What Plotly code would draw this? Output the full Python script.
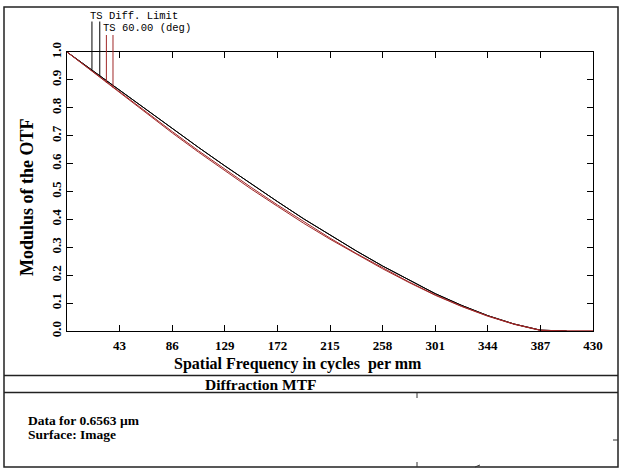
import plotly.graph_objects as go

# ---- data ----
freq = [0, 21.5, 43, 64.5, 86, 107.5, 129, 150.5, 172, 193.5, 215, 236.5,
        258, 279.5, 301, 322.5, 344, 365.5, 387, 408.5, 430]
diff_limit = [1.0, 0.931, 0.862, 0.793, 0.725, 0.658, 0.592, 0.527, 0.464,
              0.402, 0.343, 0.287, 0.233, 0.182, 0.134, 0.092, 0.055, 0.025,
              0.003, 0.0]
field60_T = [1.0, 0.927, 0.853, 0.781, 0.710, 0.641, 0.574, 0.509, 0.447,
             0.386, 0.329, 0.275, 0.223, 0.174, 0.128, 0.088, 0.053, 0.024,
             0.002, 0.0, 0.0]
field60_S = [1.0, 0.928, 0.856, 0.785, 0.715, 0.646, 0.580, 0.515, 0.452,
             0.391, 0.333, 0.278, 0.226, 0.176, 0.130, 0.089, 0.054, 0.025,
             0.003, 0.0, 0.0]
xtick_vals = [43, 86, 129, 172, 215, 258, 301, 344, 387, 430]
ytick_vals = [0.0, 0.1, 0.2, 0.3, 0.4, 0.5, 0.6, 0.7, 0.8, 0.9, 1.0]
ytick_text = ["0.0", "0.1", "0.2", "0.3", "0.4", "0.5", "0.6", "0.7", "0.8", "0.9", "1.0"]
# legend pointer positions (freq, value on curve)
ptr_black = [(20.4, 0.934), (26.8, 0.914)]
ptr_red = [(32.2, 0.889), (37.6, 0.872)]

W, H = 620, 470
L, R, T, B = 67, 593, 52, 331


def px(x):
    return (x - L) / (R - L)


def py(y):
    return (B - y) / (B - T)


BLACK = "#000000"
RED = "#a02828"

fig = go.Figure()
fig.add_trace(go.Scatter(x=freq[:len(diff_limit)], y=diff_limit, mode="lines",
                         line=dict(color=BLACK, width=1), name="T Diff. Limit"))
fig.add_trace(go.Scatter(x=freq[:len(diff_limit)], y=diff_limit, mode="lines",
                         line=dict(color=BLACK, width=1), name="S Diff. Limit"))
fig.add_trace(go.Scatter(x=freq, y=field60_T, mode="lines",
                         line=dict(color=RED, width=1), name="T 60.00 (deg)"))
fig.add_trace(go.Scatter(x=freq, y=field60_S, mode="lines",
                         line=dict(color=RED, width=1), name="S 60.00 (deg)"))

serif = "Liberation Serif"
mono = "Liberation Mono"

shapes = []
# outer frame
shapes.append(dict(type="rect", xref="paper", yref="paper",
                   x0=px(4), x1=px(618), y0=py(467), y1=py(7),
                   line=dict(color="#222", width=1.5)))
for yy in (375.5, 392.5):
    shapes.append(dict(type="line", xref="paper", yref="paper",
                       x0=px(4), x1=px(618), y0=py(yy), y1=py(yy),
                       line=dict(color="#222", width=1.5)))
# small artifact ticks
shapes.append(dict(type="line", xref="paper", yref="paper",
                   x0=px(417), x1=px(417), y0=py(393), y1=py(398),
                   line=dict(color="#333", width=1)))
shapes.append(dict(type="line", xref="paper", yref="paper",
                   x0=px(417), x1=px(417), y0=py(462), y1=py(467),
                   line=dict(color="#333", width=1)))
shapes.append(dict(type="line", xref="paper", yref="paper",
                   x0=px(475), x1=px(480), y0=py(467), y1=py(465),
                   line=dict(color="#333", width=1)))
shapes.append(dict(type="line", xref="paper", yref="paper",
                   x0=px(613), x1=px(618), y0=py(440), y1=py(440),
                   line=dict(color="#333", width=1)))
# legend pointer lines
for (f, v) in ptr_black:
    shapes.append(dict(type="line", xref="x", yref="paper",
                       x0=f, x1=f, y0=v, y1=py(21.5),
                       line=dict(color=BLACK, width=1)))
for (f, v) in ptr_red:
    shapes.append(dict(type="line", xref="x", yref="paper",
                       x0=f, x1=f, y0=v, y1=py(35),
                       line=dict(color=RED, width=1)))

annotations = [
    dict(text="TS Diff. Limit", xref="paper", yref="paper", x=px(88), y=py(15.5),
         xanchor="left", yanchor="middle", showarrow=False,
         font=dict(family=mono, size=10.5, color="#000")),
    dict(text="TS 60.00 (deg)", xref="paper", yref="paper", x=px(101), y=py(28),
         xanchor="left", yanchor="middle", showarrow=False,
         font=dict(family=mono, size=10.5, color="#000")),
    dict(text="<b>Spatial Frequency in cycles  per mm</b>", xref="paper", yref="paper",
         x=px(298), y=py(364), xanchor="center", yanchor="middle", showarrow=False,
         font=dict(family=serif, size=16, color="#000")),
    dict(text="<b>Modulus of the OTF</b>", xref="paper", yref="paper",
         x=px(27), y=py(197), xanchor="center", yanchor="middle", showarrow=False,
         textangle=-90, font=dict(family=serif, size=18, color="#000")),
    dict(text="<b>Diffraction MTF</b>", xref="paper", yref="paper",
         x=px(260), y=py(384), xanchor="center", yanchor="middle", showarrow=False,
         font=dict(family=serif, size=15.5, color="#000")),
    dict(text="<b>Data for 0.6563 µm</b>", xref="paper", yref="paper",
         x=px(26), y=py(420), xanchor="left", yanchor="middle", showarrow=False,
         font=dict(family=serif, size=13.5, color="#000")),
    dict(text="<b>Surface: Image</b>", xref="paper", yref="paper",
         x=px(26), y=py(434.5), xanchor="left", yanchor="middle", showarrow=False,
         font=dict(family=serif, size=13.5, color="#000")),
]

fig.update_layout(
    width=W, height=H,
    margin=dict(l=L, r=W - R, t=T, b=H - B, pad=0),
    paper_bgcolor="white", plot_bgcolor="white",
    showlegend=False,
    shapes=shapes, annotations=annotations,
    xaxis=dict(range=[0, 430], tickvals=xtick_vals, ticks="inside", ticklen=6,
               tickcolor="#000", showline=True, linecolor="#000", linewidth=1,
               mirror="allticks", showgrid=False, zeroline=False,
               ticklabelstandoff=2,
               tickfont=dict(family=serif, size=13, color="#000", weight="bold")),
    yaxis=dict(range=[0, 1], tickvals=ytick_vals, ticktext=ytick_text,
               ticks="inside", ticklen=6, tickcolor="#000", showline=True,
               linecolor="#000", linewidth=1, mirror="allticks", showgrid=False,
               zeroline=False, tickangle=-90, ticklabelstandoff=0,
               tickfont=dict(family=serif, size=13, color="#000", weight="bold")),
)

fig.write_html("out.html")
